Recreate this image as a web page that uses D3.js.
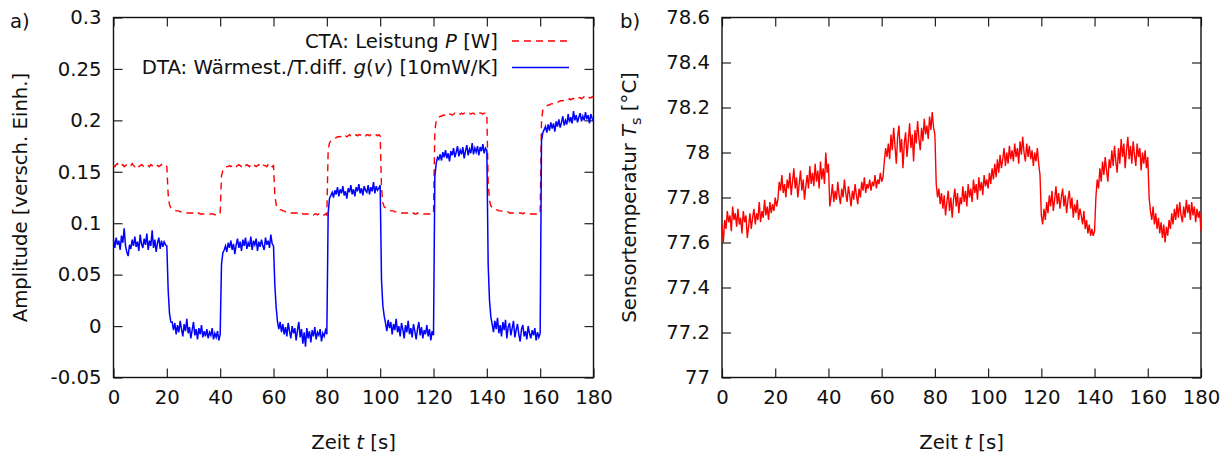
<!DOCTYPE html>
<html>
<head>
<meta charset="utf-8">
<script src="https://cdn.jsdelivr.net/npm/d3@7"></script>
<style>
  body { margin: 0; background: #fff; }
  svg text { font-family: "DejaVu Sans", sans-serif; font-size: 19.7px; fill: #111; }
</style>
</head>
<body>
<div id="chart"></div>
<script>
// Messwerte, Abtastung alle 0.5 s (0 ... 180 s)
const dt = 0.5;

// CTA: Leistung P [W]
const ctaLeistung = [
  .156,.155,.157,.158,.156,.155,.156,.157,.155,.156, .157,.156,.155,.156,.158,.156,.155,.157,.156,.155,
  .156,.157,.156,.155,.156,.157,.156,.155,.157,.156, .155,.156,.157,.156,.155,.156,.157,.155,.156,.156, .155,
  .128,.118,.115,.114,.113,.113,.112,.112,.112,.111, .111,.111,.111,.110,.110,.110,.110,.110,.110,.110,
  .110,.110,.109,.110,.109,.109,.109,.109,.109,.109, .109,.109,.109,.109,.109,.108,.109,.109,.109,.109,
  .146,.151,.153,.154,.155,.155,.156,.155,.156,.157, .156,.155,.156,.157,.156,.155,.157,.156,.156,.157,
  .156,.155,.157,.156,.157,.156,.155,.156,.157,.156, .155,.157,.156,.156,.155,.157,.156,.157,.155,.156,
  .128,.118,.115,.114,.113,.113,.112,.112,.111,.111, .111,.111,.110,.110,.110,.110,.110,.110,.110,.109,
  .110,.109,.109,.109,.109,.109,.109,.109,.109,.108, .109,.109,.108,.109,.108,.109,.108,.108,.109,.108,
  .172,.178,.180,.181,.182,.183,.183,.184,.184,.184, .185,.184,.185,.185,.184,.185,.186,.185,.185,.186,
  .185,.186,.185,.186,.186,.185,.186,.186,.185,.186, .186,.185,.186,.186,.185,.186,.186,.185,.186,.185,
  .135,.120,.116,.115,.114,.113,.113,.112,.112,.112, .111,.111,.111,.111,.110,.110,.110,.110,.110,.110,
  .110,.110,.110,.109,.110,.109,.109,.110,.109,.109, .109,.109,.109,.109,.109,.109,.109,.109,.109,.109,
  .190,.199,.202,.203,.204,.204,.205,.205,.205,.206, .205,.206,.206,.205,.206,.207,.206,.206,.207,.206,
  .207,.206,.207,.207,.206,.207,.207,.206,.207,.207, .206,.207,.207,.208,.207,.207,.206,.207,.207,.207,
  .140,.122,.117,.115,.114,.114,.113,.113,.112,.112, .112,.111,.111,.111,.111,.111,.110,.110,.110,.110,
  .110,.110,.110,.110,.110,.110,.109,.110,.109,.109, .109,.109,.109,.109,.109,.109,.109,.109,.109,.109,
  .200,.210,.212,.213,.214,.215,.215,.216,.216,.217, .217,.218,.218,.218,.219,.219,.219,.220,.220,.220,
  .220,.221,.220,.221,.221,.222,.221,.222,.222,.222, .221,.222,.223,.222,.222,.223,.222,.222,.223,.222
];

// DTA: Wärmestrom / Temperaturdifferenz g(v) [10 mW/K]
const dtaWaerme = [
  .084,.076,.086,.079,.083,.074,.088,.081,.095,.078, .072,.068,.079,.075,.084,.078,.087,.077,.082,.073,
  .089,.080,.076,.085,.079,.090,.074,.083,.078,.093, .076,.084,.072,.081,.086,.075,.083,.077,.082,.079, .078,
  .035,.012,.004,.004,-.004,.003,-.008,.001,-.006,.005, -.003,-.010,.002,-.005,.007,-.007,-.001,-.012,-.004,.004,
  -.009,-.003,-.013,-.002,-.008,.001,-.011,-.005,-.010,-.003, -.012,-.006,-.009,-.002,-.013,-.007,-.011,-.005,-.014,-.008,
  .060,.071,.074,.078,.072,.081,.076,.083,.074,.080, .070,.079,.085,.076,.082,.073,.084,.078,.086,.075,
  .081,.077,.087,.074,.083,.079,.085,.073,.082,.077, .084,.078,.074,.086,.079,.083,.076,.089,.080,.078,
  .040,.018,.004,-.003,.004,-.006,.002,-.008,-.001,-.010, .003,-.005,-.012,.000,-.007,-.002,-.014,-.004,.004,-.011,
  -.003,-.017,-.006,-.020,-.002,-.012,-.005,-.016,-.004,-.010, -.001,-.013,-.006,-.009,-.003,-.015,-.007,-.010,-.004,-.008,
  .110,.124,.127,.130,.125,.132,.128,.135,.126,.133, .129,.136,.127,.131,.124,.134,.130,.137,.128,.133,
  .126,.135,.131,.138,.129,.134,.127,.136,.132,.130, .137,.128,.135,.131,.140,.129,.136,.132,.134,.137,
  .045,.020,.010,.003,-.005,.006,-.002,.004,-.008,.002, -.004,.007,-.006,.000,-.010,.003,-.003,-.012,.001,-.006,
  .005,-.008,-.002,-.011,.002,-.005,-.013,-.003,.004,-.009, -.001,-.012,-.004,-.008,.001,-.010,-.003,-.014,-.005,-.009,
  .145,.158,.164,.162,.167,.161,.169,.164,.171,.163, .168,.160,.170,.166,.173,.164,.169,.175,.165,.171,
  .167,.174,.163,.170,.176,.166,.172,.168,.178,.167, .173,.169,.175,.166,.174,.170,.177,.168,.173,.171,
  .060,.025,.009,.002,-.006,.005,-.003,.008,-.007,.001, -.010,.004,-.004,.006,-.012,-.001,.003,-.009,-.002,.005,
  -.011,-.004,.002,-.008,-.015,-.003,.001,-.010,-.005,-.013, .000,-.007,-.012,-.004,-.009,-.002,-.014,-.006,-.011,-.007,
  .180,.188,.191,.194,.188,.196,.190,.198,.192,.197, .189,.199,.194,.201,.193,.198,.204,.195,.200,.196,
  .206,.198,.203,.197,.209,.200,.205,.198,.203,.207, .199,.204,.200,.208,.201,.205,.197,.206,.202,.199
];

// Sensortemperatur T_s [°C]
const sensorTemp = [
  77.68,77.60,77.70,77.66,77.74,77.69,77.72,77.65,77.76,77.70, 77.73,77.67,77.75,77.68,77.71,77.64,77.74,77.69,77.72,77.62,
  77.67,77.73,77.66,77.71,77.75,77.68,77.73,77.70,77.78,77.69, 77.74,77.71,77.79,77.72,77.76,77.70,77.78,77.73,77.77,77.74, 77.80,
  77.76,77.79,77.87,77.83,77.90,77.82,77.86,77.80,77.88,77.84, 77.91,77.81,77.87,77.93,77.84,77.89,77.80,77.86,77.92,77.83,
  77.88,77.79,77.85,77.90,77.84,77.94,77.86,77.91,77.85,77.95, 77.87,77.92,77.84,77.96,77.88,77.93,77.86,78.00,77.91,77.95,
  77.76,77.80,77.86,77.78,77.83,77.79,77.87,77.81,77.77,77.84, 77.80,77.88,77.82,77.78,77.85,77.81,77.76,77.83,77.79,77.86,
  77.81,77.77,77.84,77.80,77.87,77.83,77.89,77.82,77.86,77.84, 77.88,77.83,77.87,77.85,77.90,77.84,77.88,77.86,77.91,77.87,
  77.89,77.96,78.02,77.98,78.04,77.97,78.08,78.01,78.11,78.03, 77.95,78.07,78.12,78.00,78.06,77.93,78.04,78.09,77.98,78.05,
  78.13,78.02,78.08,77.96,78.10,78.04,78.14,78.06,78.01,78.11, 78.05,78.15,78.08,78.12,78.06,78.16,78.10,78.18,78.11,78.08,
  77.86,77.80,77.84,77.77,77.82,77.75,77.81,77.72,77.78,77.83, 77.74,77.80,77.71,77.79,77.84,77.76,77.82,77.73,77.80,77.77,
  77.85,77.78,77.83,77.76,77.86,77.80,77.84,77.78,77.88,77.82, 77.86,77.79,77.89,77.83,77.87,77.81,77.90,77.85,77.88,77.84,
  77.91,77.86,77.93,77.88,77.95,77.89,77.97,77.91,77.99,77.93, 77.97,78.02,77.94,78.00,77.95,78.03,77.97,78.01,77.96,78.04,
  77.98,78.02,77.95,78.05,77.99,78.07,78.00,77.96,78.04,77.98, 78.03,77.97,78.01,77.94,78.00,77.96,78.02,77.95,77.90,77.72,
  77.68,77.75,77.70,77.78,77.73,77.81,77.76,77.83,77.74,77.79, 77.85,77.77,77.82,77.75,77.80,77.84,77.76,77.81,77.73,77.79,
  77.83,77.75,77.80,77.71,77.77,77.73,77.79,77.70,77.75,77.72, 77.68,77.74,77.66,77.70,77.64,77.68,77.63,77.66,77.63,77.65,
  77.80,77.88,77.84,77.93,77.87,77.96,77.90,77.98,77.92,77.87, 77.97,77.93,78.01,77.94,78.03,77.96,77.91,78.02,77.95,78.06,
  77.98,78.04,77.93,78.01,78.07,77.97,78.03,77.95,78.05,77.99, 77.94,78.04,77.98,78.02,77.92,78.00,77.95,78.01,77.93,77.98,
  77.80,77.74,77.70,77.76,77.68,77.73,77.66,77.71,77.64,77.69, 77.62,77.68,77.60,77.67,77.63,77.70,77.66,77.73,77.68,77.75,
  77.70,77.77,77.71,77.78,77.72,77.69,77.76,77.71,77.79,77.73, 77.77,77.70,77.78,77.72,77.76,77.69,77.75,77.71,77.74,77.65
];

const xTicks = [0, 20, 40, 60, 80, 100, 120, 140, 160, 180];
const yTicksA = [-0.05, 0, 0.05, 0.1, 0.15, 0.2, 0.25, 0.3];
const yTicksB = [77, 77.2, 77.4, 77.6, 77.8, 78, 78.2, 78.4, 78.6];

const W = 1230, H = 457;
const svg = d3.select("#chart").append("svg")
  .attr("width", W).attr("height", H);

const plotTop = 17.5, plotBottom = 377.5, tick = 9;

function panel(x0, x1, yDomain, yTicks, fmt) {
  const x = d3.scaleLinear().domain([0, 180]).range([x0, x1]);
  const y = d3.scaleLinear().domain(yDomain).range([plotBottom, plotTop]);
  const g = svg.append("g");

  // Achsen mit Ticks nach innen, gespiegelt
  const ax = [
    [d3.axisBottom(x).tickValues(xTicks).tickSize(-tick).tickPadding(13).tickFormat(d => d), `translate(0,${plotBottom})`],
    [d3.axisTop(x).tickValues(xTicks).tickSize(-tick).tickFormat(""), `translate(0,${plotTop})`],
    [d3.axisLeft(y).tickValues(yTicks).tickSize(-tick).tickPadding(12).tickFormat(fmt), `translate(${x0},0)`],
    [d3.axisRight(y).tickValues(yTicks).tickSize(-tick).tickFormat(""), `translate(${x1},0)`]
  ];
  ax.forEach(([a, tr]) => {
    const s = g.append("g").attr("transform", tr).call(a.tickSizeOuter(0));
    s.select(".domain").remove();
    s.selectAll("line").attr("stroke", "#222").attr("stroke-width", 1.2);
    s.selectAll("text").attr("font-size", null).attr("font-family", null);
  });
  g.append("rect")
    .attr("x", x0).attr("y", plotTop)
    .attr("width", x1 - x0).attr("height", plotBottom - plotTop)
    .attr("fill", "none").attr("stroke", "#111").attr("stroke-width", 1.4);
  return { x, y, g };
}

// a) Amplitude
const pa = panel(113.5, 593.5, [-0.05, 0.3], yTicksA, d => String(+d.toFixed(2)));
const lineA = d3.line().x((d, i) => pa.x(i * dt)).y(d => pa.y(d));

pa.g.append("path").datum(ctaLeistung)
  .attr("d", lineA).attr("fill", "none")
  .attr("stroke", "#ff0000").attr("stroke-width", 1.4)
  .attr("stroke-dasharray", "7,5");
pa.g.append("path").datum(dtaWaerme)
  .attr("d", lineA).attr("fill", "none")
  .attr("stroke", "#0000ff").attr("stroke-width", 1.5);

// Legende
const leg = pa.g.append("g");
const t1 = leg.append("text").attr("x", 498).attr("y", 48).attr("text-anchor", "end");
t1.append("tspan").text("CTA: Leistung ");
t1.append("tspan").attr("font-style", "italic").text("P");
t1.append("tspan").text(" [W]");
leg.append("line").attr("x1", 512).attr("x2", 569).attr("y1", 41).attr("y2", 41)
  .attr("stroke", "#ff0000").attr("stroke-width", 1.4).attr("stroke-dasharray", "7,5");
const t2 = leg.append("text").attr("x", 498).attr("y", 74).attr("text-anchor", "end");
t2.append("tspan").text("DTA: Wärmest./T.diff. ");
t2.append("tspan").attr("font-style", "italic").text("g");
t2.append("tspan").text("(");
t2.append("tspan").attr("font-style", "italic").text("v");
t2.append("tspan").text(") [10mW/K]");
leg.append("line").attr("x1", 512).attr("x2", 569).attr("y1", 67.5).attr("y2", 67.5)
  .attr("stroke", "#0000ff").attr("stroke-width", 1.5);

// b) Sensortemperatur
const pb = panel(722, 1201, [77, 78.6], yTicksB, d => String(+d.toFixed(1)));
const lineB = d3.line().x((d, i) => pb.x(i * dt)).y(d => pb.y(d));
pb.g.append("path").datum(sensorTemp)
  .attr("d", lineB).attr("fill", "none")
  .attr("stroke", "#ff0000").attr("stroke-width", 1.4);

// Beschriftungen
svg.append("text").attr("x", 10).attr("y", 28).text("a)");
svg.append("text").attr("x", 620).attr("y", 28).text("b)");

[pa, pb].forEach(p => {
  const tx = svg.append("text")
    .attr("x", (p.x.range()[0] + p.x.range()[1]) / 2).attr("y", 449)
    .attr("text-anchor", "middle");
  tx.append("tspan").text("Zeit ");
  tx.append("tspan").attr("font-style", "italic").text("t");
  tx.append("tspan").text(" [s]");
});

svg.append("text")
  .attr("transform", `translate(27,${(plotTop + plotBottom) / 2}) rotate(-90)`)
  .attr("text-anchor", "middle")
  .text("Amplitude [versch. Einh.]");

const yb = svg.append("text")
  .attr("transform", `translate(636,${(plotTop + plotBottom) / 2}) rotate(-90)`)
  .attr("text-anchor", "middle");
yb.append("tspan").text("Sensortemperatur ");
yb.append("tspan").attr("font-style", "italic").text("T");
yb.append("tspan").attr("font-size", "14.5px").attr("dy", 5).text("s");
yb.append("tspan").attr("dy", -5).text(" [°C]");
</script>
</body>
</html>
